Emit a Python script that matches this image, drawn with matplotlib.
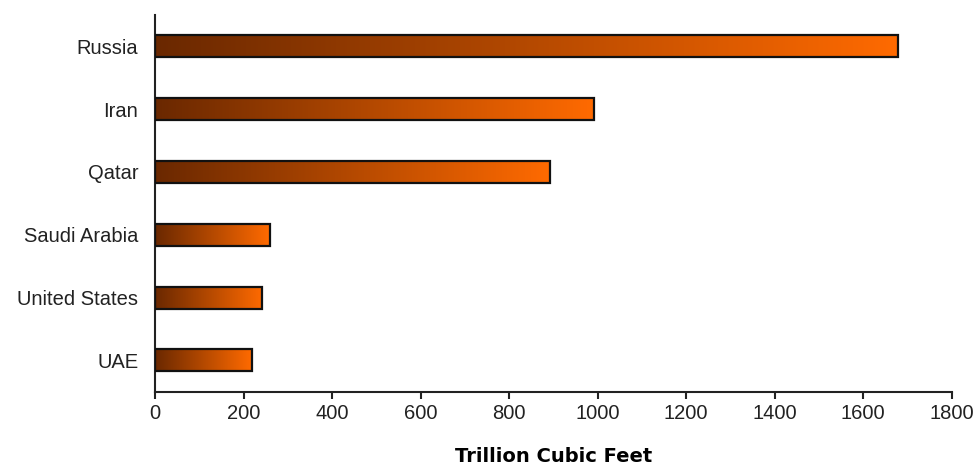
import numpy as np
import matplotlib.pyplot as plt
from matplotlib.colors import LinearSegmentedColormap

countries = ['Russia', 'Iran', 'Qatar', 'Saudi Arabia', 'United States', 'UAE']
reserves = [1680, 991, 892, 259, 242, 219]
xticks = [0, 200, 400, 600, 800, 1000, 1200, 1400, 1600, 1800]

plt.rcParams['font.family'] = ['Liberation Sans', 'DejaVu Sans']

# dark brown to orange along each bar
grad = LinearSegmentedColormap.from_list('brown_orange', ['#6a2800', '#ff6a00'])
ramp = np.linspace(0, 1, 256).reshape(1, -1)

fig = plt.figure(figsize=(9.75, 4.66), dpi=100)
ax = fig.add_axes([0.159, 0.159, 0.817, 0.809])

h = 0.35
ypos = np.arange(len(countries))
for y, v in zip(ypos, reserves):
    ax.imshow(ramp, cmap=grad, aspect='auto', interpolation='bilinear',
              extent=[0, v, y + h / 2, y - h / 2], zorder=2)
ax.barh(ypos, reserves, height=h, fill=False, edgecolor='#111111',
        linewidth=1.6, zorder=3)

ax.set_xlim(0, 1800)
ax.set_ylim(len(countries) - 0.5, -0.5)
ax.set_xticks(xticks)
ax.set_yticks(ypos)
ax.set_yticklabels(countries)

for s in ['top', 'right']:
    ax.spines[s].set_visible(False)
for s in ['left', 'bottom']:
    ax.spines[s].set_linewidth(1.5)
    ax.spines[s].set_color('#222222')

ax.tick_params(axis='y', length=0, pad=12, labelsize=14.5, labelcolor='#222222')
ax.tick_params(axis='x', length=5, width=1.5, direction='out', pad=4,
               labelsize=14.5, color='#222222', labelcolor='#222222')
ax.set_xlabel('Trillion Cubic Feet', fontsize=14, fontweight='bold', labelpad=17,
              family=['DejaVu Sans'])

fig.savefig('out.png', dpi=100)
